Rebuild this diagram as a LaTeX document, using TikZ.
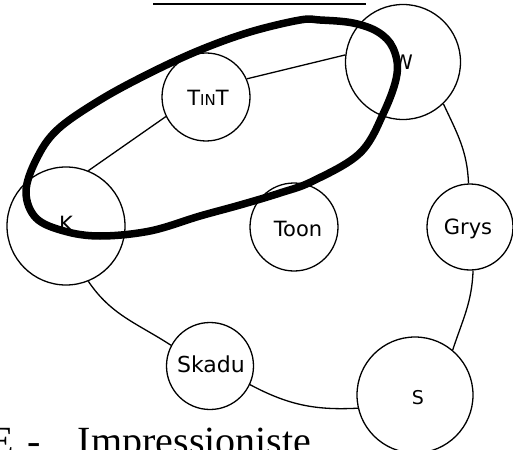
\documentclass[tikz,border=0pt]{standalone}
\usepackage{fontspec}
\setmainfont{Liberation Serif}
\newfontfamily\hand{DejaVu Sans}
\begin{document}
\begin{tikzpicture}[x=1pt,y=-1pt,
  blob/.style={draw=black, line width=1.3pt, circle, inner sep=0pt, fill=white},
  lbl/.style={font=\hand\fontsize{21}{21}\selectfont},
  link/.style={draw=black, line width=1.3pt},
  thickloop/.style={draw=black, line width=7.5pt, line join=round}]
\useasboundingbox (0,0) rectangle (513,449);
% top underline
\draw[line width=2pt] (153,4) -- (366,4);
% circles
\node[blob, minimum size=115pt] (W) at (403,62) {};
\node[lbl, font=\hand\fontsize{20}{20}\selectfont] (Wl) at (403,62) {W};
\node[blob, minimum size=88pt] (TINT) at (206,97) {};
\node[lbl] (TINTl) at (208,98) {T{\fontsize{15}{15}\selectfont IN}T};
\node[blob, minimum size=118pt] (K) at (66,226) {};
\node[lbl] (Kl) at (66,224) {K};
\node[blob, minimum size=88pt] (Toon) at (294,227) {};
\node[lbl] (Toonl) at (298,229) {Toon};
\node[blob, minimum size=86pt] (Grys) at (470,227) {};
\node[lbl] (Grysl) at (468,229) {Grys};
\node[blob, minimum size=87pt] (Skadu) at (210,366) {};
\node[lbl, font=\hand\fontsize{22}{22}\selectfont] (Skadul) at (211,364) {Skadu};
\node[blob, minimum size=116pt] (S) at (415,395) {};
\node[lbl, font=\hand\fontsize{19}{19}\selectfont] (Sl) at (418,398) {S};
% connectors
\draw[link] (TINT.24) -- (W.173);
\draw[link] (TINT.206) -- (K.68);
\draw[link] (W.314) to[out=-65,in=92] (Grys.92);
\draw[link] (Grys.-86) to[out=-92,in=72] (S.50);
\draw[link] (S.193) to[out=183,in=-28] (Skadu.335);
\draw[link] (Skadu.152) to[out=147,in=-56] (K.-68);
% thick loop
\draw[thickloop] plot[smooth cycle, tension=0.6] coordinates {
 (100,100) (57,130) (36,160) (26,192) (36,218) (64,231) (100,236) (150,231)
 (200,216) (240,205) (280,193) (313,181) (360,153) (384,112) (397,74)
 (393,48) (378,32) (353,23) (320,20) (300,20) (250,32) (200,50) (150,73)};
% bottom text
\node[anchor=base west, inner sep=0pt, font=\fontsize{40}{40}\selectfont] (cap) at (-11,454)
  {E\hspace{14pt}-\hspace{37pt}Impressioniste};
\end{tikzpicture}
\end{document}
